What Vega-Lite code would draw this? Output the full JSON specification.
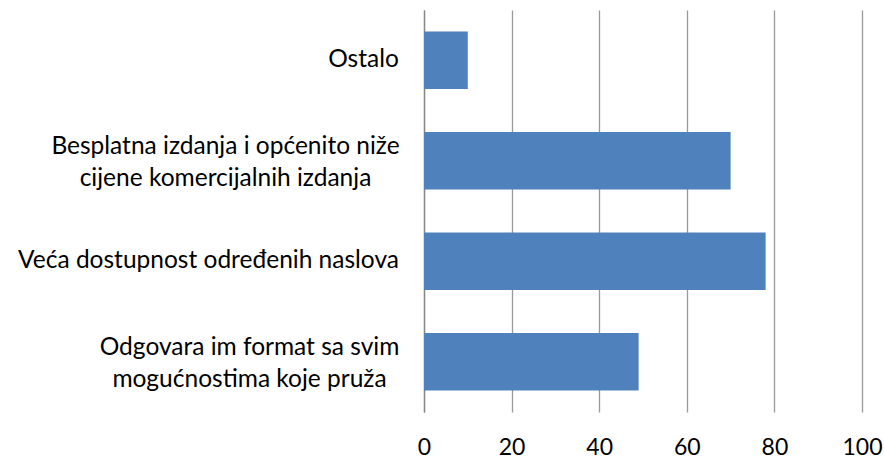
{
  "$schema": "https://vega.github.io/schema/vega-lite/v6.json",
  "width": 438,
  "height": 402,
  "autosize": "none",
  "padding": {"left": 424, "top": 10, "right": 22, "bottom": 47},
  "background": "white",
  "config": {"view": {"stroke": null}, "font": "Lato"},
  "data": {
    "values": [
      {"cat": "Ostalo", "value": 10},
      {"cat": "Besplatna izdanja i općenito niže|cijene komercijalnih izdanja", "value": 70},
      {"cat": "Veća dostupnost određenih naslova", "value": 78},
      {"cat": "Odgovara im format sa svim|mogućnostima koje pruža", "value": 49}
    ]
  },
  "mark": {"type": "bar", "color": "#4F81BD"},
  "encoding": {
    "y": {
      "field": "cat", "type": "nominal", "sort": null,
      "scale": {"paddingInner": 0.43, "paddingOuter": 0.215},
      "axis": {
        "title": null, "ticks": false, "grid": false,
        "domainColor": "#868686", "domainWidth": 1.3,
        "labelExpr": "split(datum.value, '|')",
        "labelFont": "Lato", "labelFontSize": 24.5, "labelColor": "#000000",
        "labelAlign": "center",
        "labelLineHeight": 32, "labelLimit": 420,
        "labelPadding": {"condition": [
          {"test": "indexof(datum.value, 'Ostalo') >= 0", "value": 61},
          {"test": "indexof(datum.value, 'Besplatna') >= 0", "value": 199},
          {"test": "indexof(datum.value, 'Veća') >= 0", "value": 216}
        ], "value": 175},
        "labelOffset": {"condition": {"test": "indexof(datum.value, '|') >= 0", "value": -14}, "value": 0}
      }
    },
    "x": {
      "field": "value", "type": "quantitative",
      "scale": {"domain": [0, 100], "nice": false},
      "axis": {
        "title": null, "values": [0, 20, 40, 60, 80, 100],
        "domain": false, "ticks": false,
        "grid": true, "gridColor": "#999999", "gridWidth": 1.3,
        "labelFont": "Lato", "labelFontSize": 23, "labelColor": "#000000",
        "labelPadding": 24, "labelFlush": false
      }
    }
  }
}
